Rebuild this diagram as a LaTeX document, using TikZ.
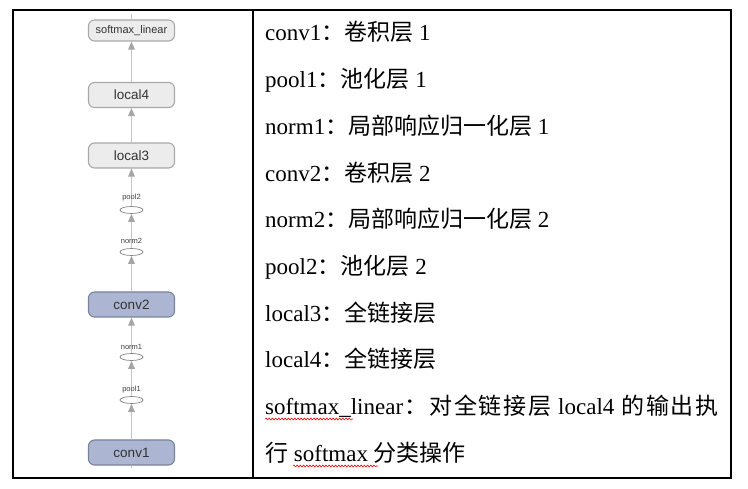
\documentclass[tikz,border=0pt]{standalone}
\usepackage{fontspec}
\setmainfont{Liberation Serif}
\newfontfamily\cjk{Noto Sans CJK SC}
\newfontfamily\hel{Liberation Sans}
\usetikzlibrary{arrows.meta,shapes.geometric,decorations.pathmorphing}
\definecolor{gfill}{RGB}{236,236,236}
\definecolor{gdraw}{RGB}{168,168,168}
\definecolor{bfill}{RGB}{172,182,210}
\definecolor{bdraw}{RGB}{122,130,156}
\definecolor{lcol}{RGB}{196,196,196}
\definecolor{acol}{RGB}{165,165,165}
\tikzset{
  gbox/.style={draw=gdraw, fill=gfill, line width=1.1pt, rounded corners=6pt, minimum width=86pt, minimum height=25pt, inner sep=0pt, font=\hel\fontsize{13.5}{15}\selectfont, text=black!80},
  bbox/.style={gbox, draw=bdraw, fill=bfill},
  opnode/.style={draw=gdraw!80!black, fill=white, ellipse, line width=0.7pt, minimum width=23pt, minimum height=7pt, inner sep=0pt},
  oplabel/.style={font=\hel\fontsize{7.5}{8}\selectfont, text=black!75, inner sep=0pt},
  conn/.style={draw=lcol, line width=1.4pt, -{Triangle[width=6.5pt,length=8pt,fill=acol,color=acol]}},
  stub/.style={draw=lcol, line width=1.4pt},
  row/.style={anchor=base west, inner sep=0pt, font=\fontsize{23}{28}\selectfont},
  squig/.style={draw=red, line width=0.6pt, decorate, decoration={snake, amplitude=0.9pt, segment length=3.2pt}}
}
\newcommand{\cj}[1]{{\cjk #1}}
\newcommand{\jsp}{\hskip 0pt plus 1fil\relax}
\newcommand{\wsp}{\hskip 5.5pt plus 1fil\relax}
\begin{document}
\begin{tikzpicture}[x=1pt,y=1pt]
\useasboundingbox (0,0) rectangle (748,488);
\fill[white] (0,0) rectangle (748,488);
% table
\draw[line width=1.3pt] (13,10) rectangle (731,478);
\draw[line width=1.3pt] (253,10) -- (253,478);
% graph nodes
\node[gbox, minimum height=21pt, font=\hel\fontsize{11}{12}\selectfont] (sm) at (131.5,457.5) {softmax\_linear};
\node[gbox] (local4) at (131.5,393) {local4};
\node[gbox] (local3) at (131.5,332.5) {local3};
\node[opnode] (pool2) at (131.5,278) {};
\node[opnode] (norm2) at (131.5,236) {};
\node[bbox] (conv2) at (131.5,183.5) {conv2};
\node[opnode] (norm1) at (131.5,131) {};
\node[opnode] (pool1) at (131.5,88) {};
\node[bbox] (conv1) at (131.5,35.5) {conv1};
\coordinate (topstub) at (131.5,474);
\coordinate (botstub) at (131.5,20);
% connectors
\draw[stub] (sm.north) -- (topstub);
\draw[stub] (conv1.south) -- (botstub);
\draw[conn] (conv1.north) -- (pool1.south);
\draw[conn] (pool1.north) -- (norm1.south);
\draw[conn] (norm1.north) -- (conv2.south);
\draw[conn] (conv2.north) -- (norm2.south);
\draw[conn] (norm2.north) -- (pool2.south);
\draw[conn] (pool2.north) -- (local3.south);
\draw[conn] (local3.north) -- (local4.south);
\draw[conn] (local4.north) -- (sm.south);
% op labels
\node[oplabel] (lpool2) at (131.5,290) {pool2};
\node[oplabel] (lnorm2) at (131.5,247) {norm2};
\node[oplabel] (lnorm1) at (131.5,141) {norm1};
\node[oplabel] (lpool1) at (131.5,98) {pool1};
% right column
\node[row] (r1) at (265,447) {conv1\cj{：卷积层} 1};
\node[row] (r2) at (265,400.3) {pool1\cj{：池化层} 1};
\node[row] (r3) at (265,353.6) {norm1\cj{：局部响应归一化层} 1};
\node[row] (r4) at (265,306.9) {conv2\cj{：卷积层} 2};
\node[row] (r5) at (265,260.2) {norm2\cj{：局部响应归一化层} 2};
\node[row] (r6) at (265,213.5) {pool2\cj{：池化层} 2};
\node[row] (r7) at (265,166.8) {local3\cj{：全链接层}};
\node[row] (r8) at (265,120.1) {local4\cj{：全链接层}};
\node[row] (r9) at (265,73.4) {\makebox[455pt][l]{softmax\_linear\jsp\cj{：}\jsp\cj{对}\jsp\cj{全}\jsp\cj{链}\jsp\cj{接}\jsp\cj{层}\wsp local4\wsp\cj{的}\jsp\cj{输}\jsp\cj{出}\jsp\cj{执}}};
\node[row] (r10) at (265,26.7) {\cj{行} softmax \cj{分类操作}};
% spell-check squiggles
\draw[squig] (265,69) -- (353,69);
\draw[squig] (293,22) -- (378,22);
\end{tikzpicture}
\end{document}
